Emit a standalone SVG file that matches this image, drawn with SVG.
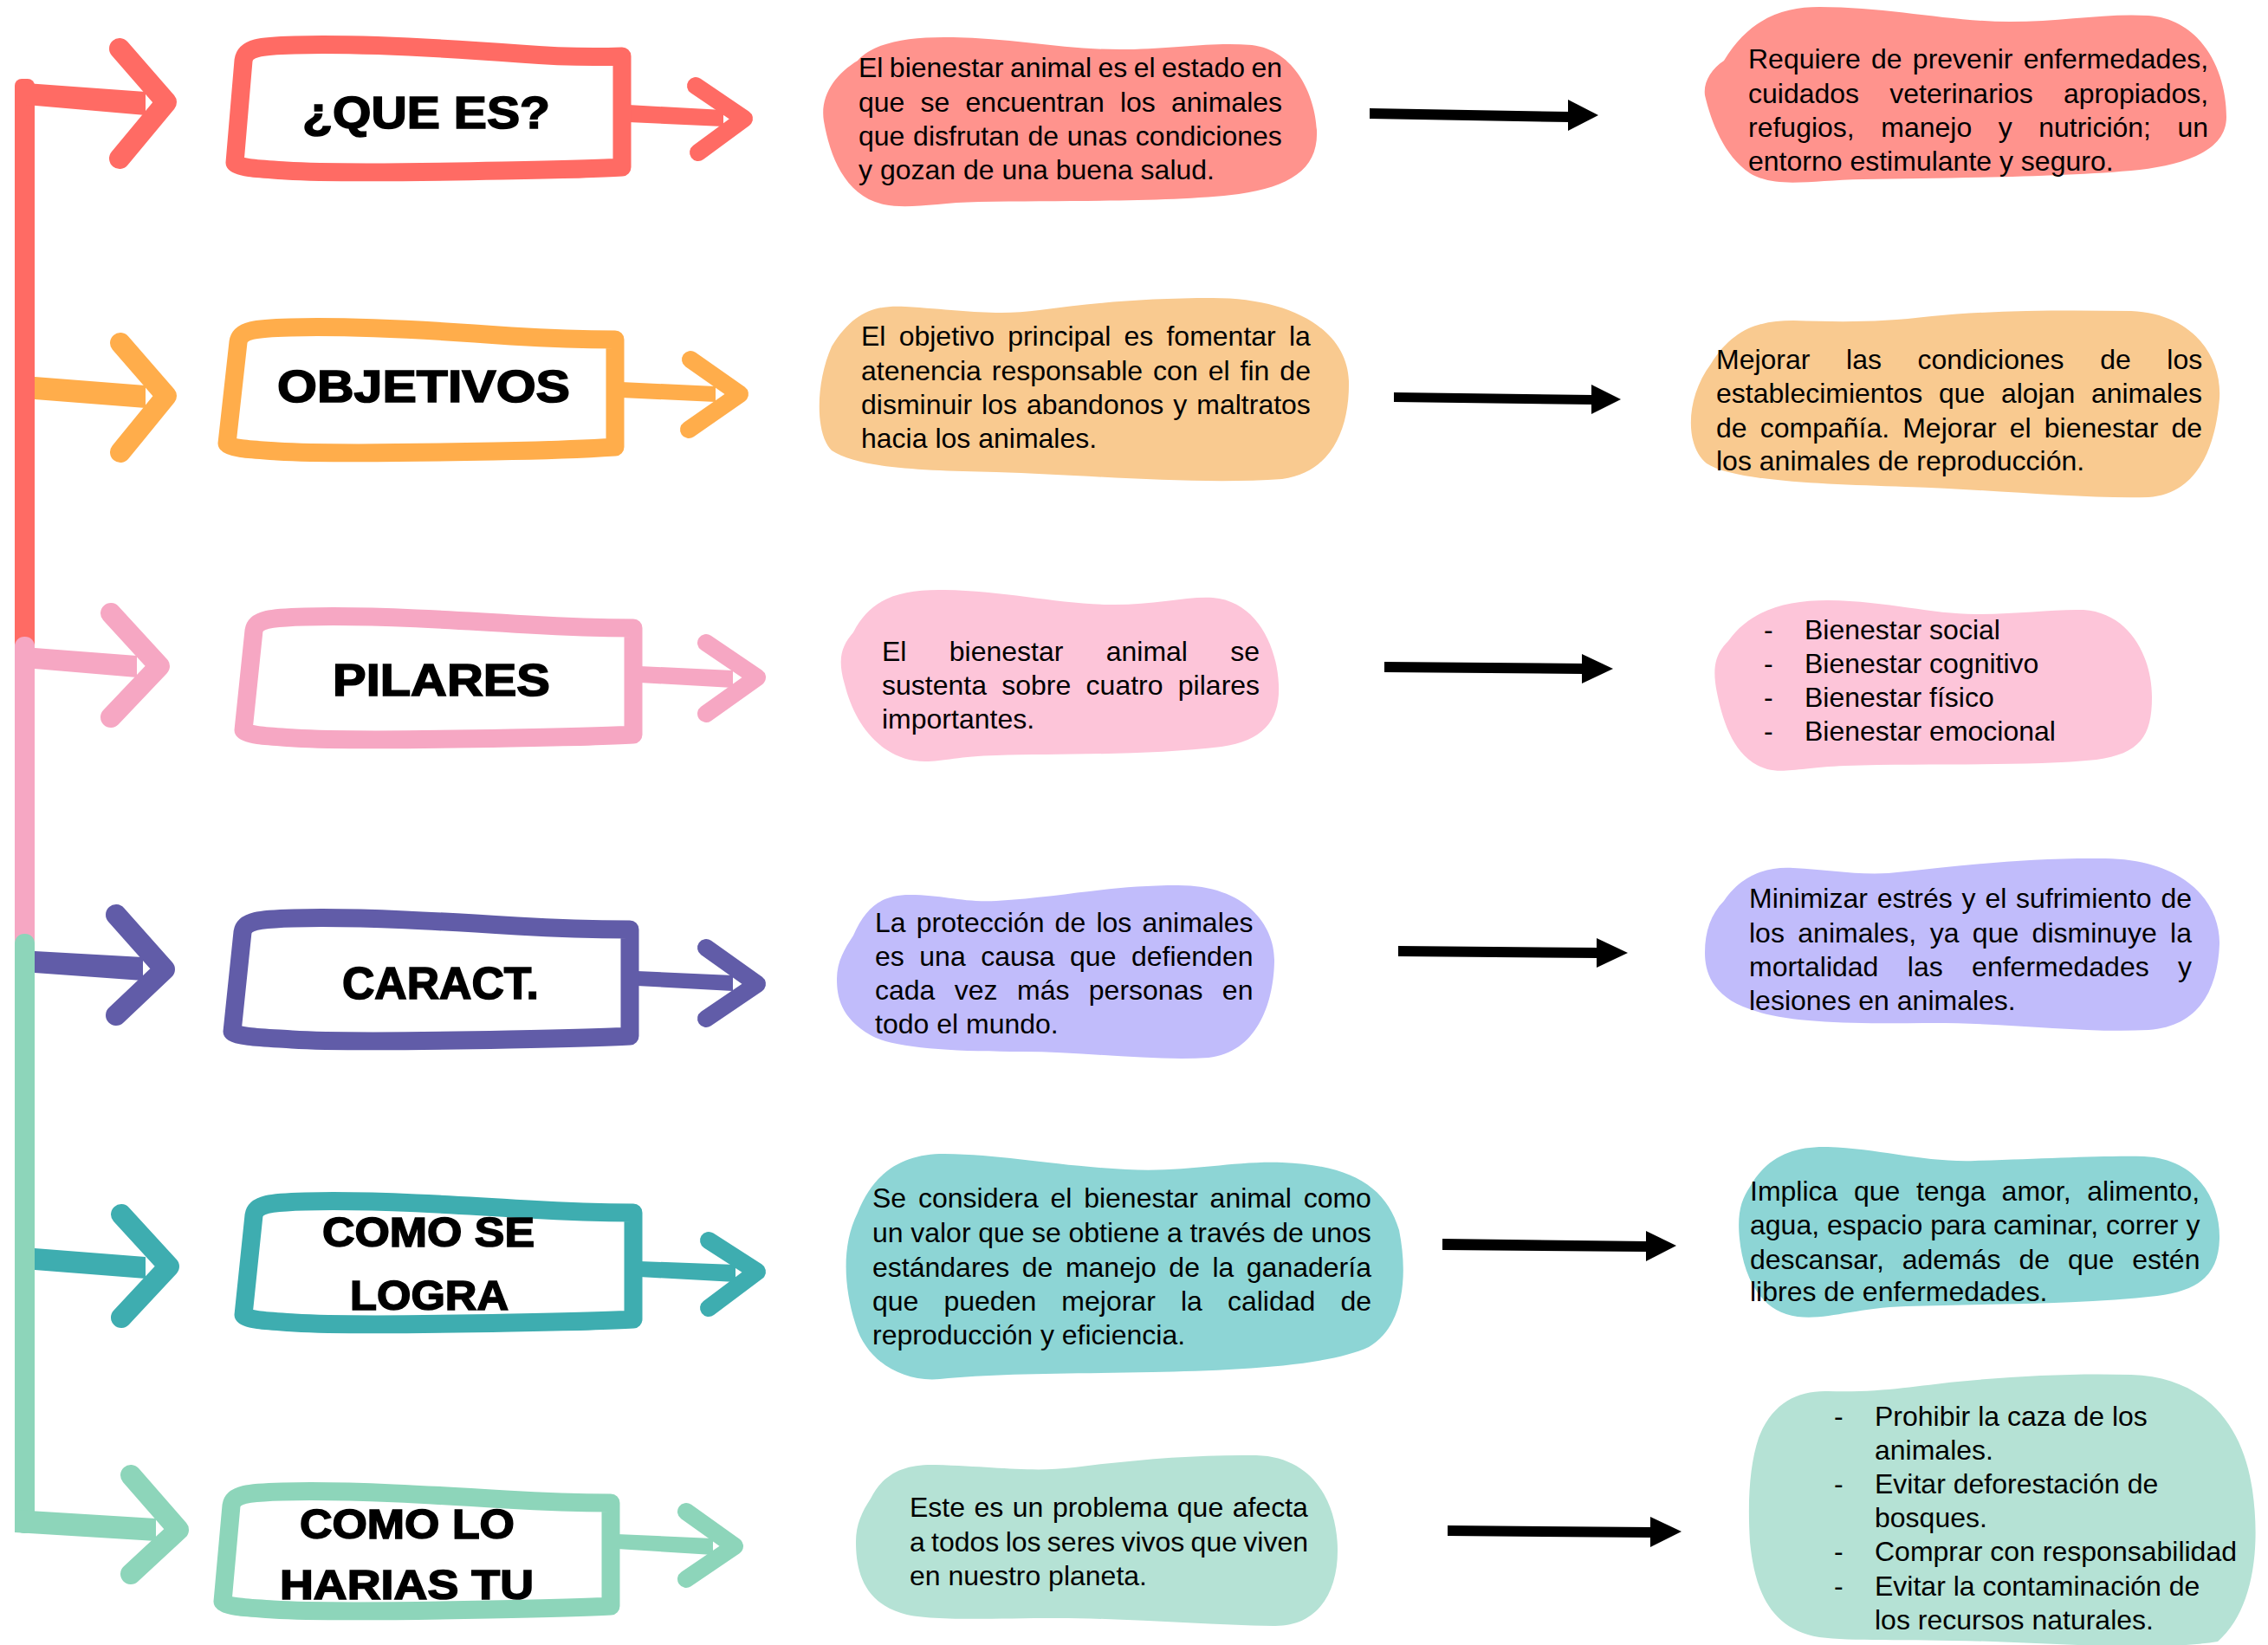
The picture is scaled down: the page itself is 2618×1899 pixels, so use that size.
<svg xmlns="http://www.w3.org/2000/svg" width="2618" height="1899" viewBox="0 0 2618 1899">
<style>
.t{font-family:"Liberation Sans",Arial,sans-serif;font-size:32px;fill:#000}
.lbl{font-family:"Liberation Sans",Arial,sans-serif;font-weight:bold;fill:#000;stroke:#000;stroke-width:1.6}
.box{fill:#fff;stroke-width:21;stroke-linejoin:round}
.chev{fill:none;stroke-width:24;stroke-linecap:round;stroke-linejoin:round}
.chev2{fill:none;stroke-width:20;stroke-linecap:round;stroke-linejoin:round}
.blk{fill:#000}
</style>
<rect width="2618" height="1899" fill="#fff"/>

<g id="connectors">
  <!-- spine -->
  <rect x="17" y="91" width="23" height="660" rx="8" fill="#FF6B64"/>
  <rect x="17" y="735" width="23" height="360" rx="11" fill="#F6A7C3"/>
  <rect x="17" y="1078" width="23" height="692" rx="11" fill="#8DD5BA"/>
  <!-- left arrows -->
  <polygon points="30,96 168,106 168,133 30,121" fill="#FF6B64"/>
  <polyline class="chev" points="138,56 192,118 138,183" stroke="#FF6B64"/>
  <polygon points="40,435 168,445 168,471 40,461" fill="#FFAD4B"/>
  <polyline class="chev" points="139,396 192,457 139,522" stroke="#FFAD4B"/>
  <polygon points="40,748 158,757 158,782 40,772" fill="#F6A7C3"/>
  <polyline class="chev" points="128,708 184,769 128,828" stroke="#F6A7C3"/>
  <polygon points="40,1098 165,1105 165,1132 40,1123" fill="#615CA8"/>
  <polyline class="chev" points="134,1056 190,1119 134,1172" stroke="#615CA8"/>
  <polygon points="40,1441 168,1451 168,1476 40,1466" fill="#3EADB0"/>
  <polyline class="chev" points="140,1402 195,1462 140,1521" stroke="#3EADB0"/>
  <polygon points="17,1743 180,1753 180,1779 17,1769" fill="#8DD5BA"/>
  <polyline class="chev" points="151,1703 206,1766 151,1817" stroke="#8DD5BA"/>
  <!-- right arrows -->
  <polygon points="725,121 835,127 835,146 725,141" fill="#FF6B64"/>
  <polyline class="chev2" points="803,99 859,137 806,176" stroke="#FF6B64"/>
  <polygon points="717,441 826,446 826,464 717,459" fill="#FFAD4B"/>
  <polyline class="chev2" points="797,415 854,455 795,496" stroke="#FFAD4B"/>
  <polygon points="738,769 846,774 846,794 738,788" fill="#F6A7C3"/>
  <polyline class="chev2" points="815,742 874,782 815,824" stroke="#F6A7C3"/>
  <polygon points="735,1121 846,1126 846,1144 735,1138" fill="#615CA8"/>
  <polyline class="chev2" points="815,1094 874,1136 815,1176" stroke="#615CA8"/>
  <polygon points="738,1456 849,1460 849,1480 738,1474" fill="#3EADB0"/>
  <polyline class="chev2" points="818,1432 874,1468 818,1510" stroke="#3EADB0"/>
  <polygon points="712,1771 823,1776 823,1795 712,1788" fill="#8DD5BA"/>
  <polyline class="chev2" points="792,1745 848,1785 792,1823" stroke="#8DD5BA"/>
  <!-- black arrows -->
  <polygon class="blk" points="1581,125 1812,129 1812,141 1581,137"/>
  <polygon class="blk" points="1810,115 1845,133 1810,151"/>
  <polygon class="blk" points="1609,453 1839,456 1839,467 1609,464"/>
  <polygon class="blk" points="1837,444 1871,461 1837,478"/>
  <polygon class="blk" points="1598,764 1828,766 1828,778 1598,776"/>
  <polygon class="blk" points="1826,755 1862,772 1826,789"/>
  <polygon class="blk" points="1614,1092 1845,1094 1845,1106 1614,1104"/>
  <polygon class="blk" points="1843,1083 1879,1100 1843,1117"/>
  <polygon class="blk" points="1665,1430 1902,1433 1902,1445 1665,1443"/>
  <polygon class="blk" points="1900,1421 1935,1438 1900,1456"/>
  <polygon class="blk" points="1671,1761 1907,1763 1907,1775 1671,1773"/>
  <polygon class="blk" points="1905,1751 1941,1768 1905,1786"/>
</g>

<!-- left label boxes -->
<g id="box-que-es">
  <path class="box" stroke="#FF6B64" d="M 281,70 C 283,55 300,53 340,52 C 420,50 520,56 600,62 C 650,66 690,66 718,65 L 718,193 C 690,195 640,196 580,197 C 480,199 380,200 330,197 C 300,195 275,194 271,188 Z"/>
  <text class="lbl" x="349" y="148" font-size="52" textLength="286" lengthAdjust="spacingAndGlyphs">¿QUE ES?</text>
</g>
<g id="box-objetivos">
  <path class="box" stroke="#FFAD4B" d="M 275,395 C 277,381 294,379 335,378 C 410,376 510,382 590,388 C 640,391 680,392 710,392 L 710,516 C 680,518 630,520 570,521 C 470,523 370,524 320,521 C 290,519 266,518 262,512 Z"/>
  <text class="lbl" x="320" y="464" font-size="52" textLength="338" lengthAdjust="spacingAndGlyphs">OBJETIVOS</text>
</g>
<g id="box-pilares">
  <path class="box" stroke="#F6A7C3" d="M 293,728 C 295,715 312,713 352,712 C 430,710 530,716 610,721 C 660,724 700,725 731,725 L 731,848 C 700,850 650,851 590,852 C 490,854 390,855 340,852 C 310,850 285,849 281,843 Z"/>
  <text class="lbl" x="384" y="803" font-size="52" textLength="251" lengthAdjust="spacingAndGlyphs">PILARES</text>
</g>
<g id="box-caract">
  <path class="box" stroke="#615CA8" d="M 280,1076 C 282,1063 299,1061 339,1060 C 417,1058 517,1064 597,1069 C 647,1072 687,1073 727,1073 L 727,1196 C 697,1198 647,1199 587,1200 C 487,1202 387,1203 337,1200 C 307,1198 272,1197 268,1191 Z"/>
  <text class="lbl" x="395" y="1153" font-size="52" textLength="227" lengthAdjust="spacingAndGlyphs">CARACT.</text>
</g>
<g id="box-como-se-logra">
  <path class="box" stroke="#3EADB0" d="M 293,1403 C 295,1390 312,1388 352,1387 C 430,1385 530,1391 610,1396 C 660,1399 700,1400 731,1400 L 731,1523 C 700,1525 650,1526 590,1527 C 490,1529 390,1530 340,1527 C 310,1525 285,1524 281,1518 Z"/>
  <text class="lbl" x="372" y="1439" font-size="48" textLength="245" lengthAdjust="spacingAndGlyphs">COMO SE</text>
  <text class="lbl" x="404" y="1512" font-size="48" textLength="183" lengthAdjust="spacingAndGlyphs">LOGRA</text>
</g>
<g id="box-como-lo-harias">
  <path class="box" stroke="#8DD5BA" d="M 267,1738 C 269,1725 286,1723 326,1722 C 404,1720 504,1726 584,1731 C 634,1734 674,1735 705,1735 L 705,1854 C 675,1856 625,1857 565,1858 C 465,1860 365,1861 315,1858 C 285,1856 261,1855 257,1849 Z"/>
  <text class="lbl" x="346" y="1776" font-size="48" textLength="248" lengthAdjust="spacingAndGlyphs">COMO LO</text>
  <text class="lbl" x="323" y="1846" font-size="48" textLength="293" lengthAdjust="spacingAndGlyphs">HARIAS TU</text>
</g>

<!-- middle blobs -->
<g id="blob-m1">
  <path fill="#FF938D" d="M 990,70 C 1010,48 1050,42 1100,43 C 1170,44 1230,58 1300,57 C 1360,56 1400,48 1445,52 C 1495,58 1518,110 1520,150 C 1522,195 1490,215 1430,224 C 1350,234 1230,231 1130,233 C 1080,234 1050,242 1020,236 C 975,226 958,180 951,140 C 946,110 965,85 990,70 Z"/>
  <text class="t" x="991" y="89" word-spacing="-1.5">El bienestar animal es el estado en</text>
  <text class="t" x="991" y="128.5" word-spacing="9.3">que se encuentran los animales</text>
  <text class="t" x="991" y="168" word-spacing="0.8">que disfrutan de unas condiciones</text>
  <text class="t" x="991" y="207">y gozan de una buena salud.</text>
</g>
<g id="blob-m2">
  <path fill="#F9CA90" d="M 960,400 C 985,360 1010,352 1045,354 C 1110,358 1150,365 1200,358 C 1260,350 1320,344 1400,344 C 1490,344 1555,380 1557,440 C 1558,490 1540,545 1480,553 C 1380,560 1250,548 1150,545 C 1060,543 990,540 960,520 C 940,500 942,440 960,400 Z"/>
  <text class="t" x="994" y="399" word-spacing="6.3">El objetivo principal es fomentar la</text>
  <text class="t" x="994" y="438.5" word-spacing="3.1">atenencia responsable con el fin de</text>
  <text class="t" x="994" y="478" word-spacing="2.1">disminuir los abandonos y maltratos</text>
  <text class="t" x="994" y="517">hacia los animales.</text>
</g>
<g id="blob-m3">
  <path fill="#FDC5D9" d="M 985,730 C 1005,690 1040,680 1090,681 C 1160,682 1220,697 1280,698 C 1330,699 1370,688 1400,690 C 1450,694 1474,745 1476,790 C 1478,830 1460,855 1410,862 C 1330,872 1220,870 1150,872 C 1100,873 1080,882 1055,878 C 1010,870 985,830 975,790 C 966,760 972,745 985,730 Z"/>
  <text class="t" x="1018" y="763" word-spacing="40.4">El bienestar animal se</text>
  <text class="t" x="1018" y="802" word-spacing="8.4">sustenta sobre cuatro pilares</text>
  <text class="t" x="1018" y="841">importantes.</text>
</g>
<g id="blob-m4">
  <path fill="#C1BCFB" d="M 985,1080 C 1000,1045 1020,1033 1050,1033 C 1090,1033 1110,1042 1150,1040 C 1230,1035 1280,1022 1360,1022 C 1440,1022 1472,1070 1471,1110 C 1470,1160 1450,1215 1395,1221 C 1330,1225 1250,1214 1180,1214 C 1100,1214 1030,1210 1005,1195 C 970,1175 966,1150 966,1130 C 966,1110 975,1095 985,1080 Z"/>
  <text class="t" x="1010" y="1075.5" word-spacing="3.3">La protección de los animales</text>
  <text class="t" x="1010" y="1114.5" word-spacing="8.6">es una causa que defienden</text>
  <text class="t" x="1010" y="1154" word-spacing="13.5">cada vez más personas en</text>
  <text class="t" x="1010" y="1193">todo el mundo.</text>
</g>
<g id="blob-m5">
  <path fill="#8DD5D5" d="M 990,1400 C 1010,1350 1045,1332 1090,1332 C 1160,1333 1210,1345 1300,1350 C 1370,1354 1420,1340 1480,1342 C 1560,1345 1600,1370 1615,1420 C 1625,1470 1622,1530 1580,1555 C 1530,1578 1420,1582 1330,1584 C 1230,1586 1150,1585 1085,1592 C 1040,1596 1000,1570 988,1530 C 975,1490 970,1440 990,1400 Z"/>
  <text class="t" x="1007" y="1393.5" word-spacing="4.9">Se considera el bienestar animal como</text>
  <text class="t" x="1007" y="1433.5" word-spacing="-0.3">un valor que se obtiene a través de unos</text>
  <text class="t" x="1007" y="1473.5" word-spacing="5.6">estándares de manejo de la ganadería</text>
  <text class="t" x="1007" y="1512.5" word-spacing="20.2">que pueden mejorar la calidad de</text>
  <text class="t" x="1007" y="1552">reproducción y eficiencia.</text>
</g>
<g id="blob-m6">
  <path fill="#B5E2D5" d="M 1005,1730 C 1020,1700 1045,1690 1080,1691 C 1150,1693 1190,1700 1240,1694 C 1310,1685 1380,1679 1450,1680 C 1520,1682 1544,1740 1544,1790 C 1544,1840 1520,1878 1470,1877 C 1390,1876 1300,1868 1220,1868 C 1140,1868 1070,1872 1040,1862 C 995,1848 988,1810 988,1780 C 988,1760 995,1745 1005,1730 Z"/>
  <text class="t" x="1050" y="1751" word-spacing="1.6">Este es un problema que afecta</text>
  <text class="t" x="1050" y="1790.5" word-spacing="-1.6">a todos los seres vivos que viven</text>
  <text class="t" x="1050" y="1829.5">en nuestro planeta.</text>
</g>

<!-- right blobs -->
<g id="blob-r1">
  <path fill="#FF938D" d="M 1990,70 C 2020,20 2060,8 2100,8 C 2180,8 2250,25 2320,25 C 2380,25 2430,15 2480,18 C 2540,22 2570,80 2570,135 C 2570,175 2520,190 2470,196 C 2380,205 2250,205 2150,207 C 2090,208 2050,218 2020,200 C 1990,180 1975,140 1968,110 C 1966,95 1975,80 1990,70 Z"/>
  <text class="t" x="2018" y="78.5" word-spacing="3.3">Requiere de prevenir enfermedades,</text>
  <text class="t" x="2018" y="118.5" word-spacing="26.3">cuidados veterinarios apropiados,</text>
  <text class="t" x="2018" y="157.5" word-spacing="21.6">refugios, manejo y nutrición; un</text>
  <text class="t" x="2018" y="197">entorno estimulante y seguro.</text>
</g>
<g id="blob-r2">
  <path fill="#F9CA90" d="M 1975,420 C 2000,380 2030,370 2070,370 C 2130,372 2170,372 2230,365 C 2300,358 2380,358 2460,359 C 2530,362 2565,410 2562,460 C 2558,510 2540,570 2480,574 C 2400,576 2300,565 2200,562 C 2100,559 2000,555 1970,535 C 1945,515 1945,460 1975,420 Z"/>
  <text class="t" x="1981" y="426" word-spacing="32.7">Mejorar las condiciones de los</text>
  <text class="t" x="1981" y="465" word-spacing="9.7">establecimientos que alojan animales</text>
  <text class="t" x="1981" y="504.5" word-spacing="6.2">de compañía. Mejorar el bienestar de</text>
  <text class="t" x="1981" y="543">los animales de reproducción.</text>
</g>
<g id="blob-r3">
  <path fill="#FDC5D9" d="M 1995,740 C 2020,705 2060,693 2110,693 C 2180,694 2230,709 2280,709 C 2330,709 2370,703 2405,704 C 2460,708 2484,760 2484,805 C 2484,850 2470,870 2420,877 C 2340,885 2220,881 2130,884 C 2080,886 2060,893 2040,888 C 2005,878 1990,840 1982,800 C 1976,770 1980,755 1995,740 Z"/>
  <text class="t" x="2036" y="738">-</text><text class="t" x="2083" y="738">Bienestar social</text>
  <text class="t" x="2036" y="777">-</text><text class="t" x="2083" y="777">Bienestar cognitivo</text>
  <text class="t" x="2036" y="816">-</text><text class="t" x="2083" y="816">Bienestar físico</text>
  <text class="t" x="2036" y="855">-</text><text class="t" x="2083" y="855">Bienestar emocional</text>
</g>
<g id="blob-r4">
  <path fill="#C1BCFB" d="M 1990,1040 C 2010,1010 2040,1000 2070,1002 C 2110,1004 2140,1010 2180,1008 C 2260,1000 2330,990 2430,991 C 2520,992 2563,1040 2562,1090 C 2560,1140 2540,1185 2480,1189 C 2400,1193 2320,1180 2220,1181 C 2130,1182 2060,1180 2020,1165 C 1975,1150 1968,1120 1968,1100 C 1968,1075 1975,1055 1990,1040 Z"/>
  <text class="t" x="2019" y="1048" word-spacing="1.9">Minimizar estrés y el sufrimiento de</text>
  <text class="t" x="2019" y="1088" word-spacing="6.5">los animales, ya que disminuye la</text>
  <text class="t" x="2019" y="1127" word-spacing="24.5">mortalidad las enfermedades y</text>
  <text class="t" x="2019" y="1166">lesiones en animales.</text>
</g>
<g id="blob-r5">
  <path fill="#8DD5D5" d="M 2020,1370 C 2040,1335 2070,1323 2110,1324 C 2170,1326 2220,1342 2280,1340 C 2360,1338 2420,1334 2475,1335 C 2540,1338 2563,1390 2562,1430 C 2561,1470 2540,1490 2490,1496 C 2400,1506 2300,1505 2200,1508 C 2140,1510 2110,1524 2075,1520 C 2030,1515 2012,1470 2008,1430 C 2005,1400 2010,1385 2020,1370 Z"/>
  <text class="t" x="2020" y="1386" word-spacing="9.7">Implica que tenga amor, alimento,</text>
  <text class="t" x="2020" y="1425">agua, espacio para caminar, correr y</text>
  <text class="t" x="2020" y="1465" word-spacing="12">descansar, además de que estén</text>
  <text class="t" x="2020" y="1502">libres de enfermedades.</text>
</g>
<g id="blob-r6">
  <path fill="#B5E2D5" d="M 2030,1660 C 2045,1620 2075,1605 2110,1606 C 2170,1608 2210,1600 2260,1595 C 2330,1588 2400,1585 2460,1587 C 2550,1590 2590,1650 2600,1720 C 2610,1790 2600,1860 2560,1895 C 2500,1905 2400,1899 2300,1895 C 2200,1892 2140,1895 2100,1890 C 2040,1880 2025,1830 2020,1780 C 2017,1730 2020,1690 2030,1660 Z"/>
  <text class="t" x="2117" y="1646">-</text><text class="t" x="2164" y="1646">Prohibir la caza de los</text>
  <text class="t" x="2164" y="1685">animales.</text>
  <text class="t" x="2117" y="1724">-</text><text class="t" x="2164" y="1724">Evitar deforestación de</text>
  <text class="t" x="2164" y="1763">bosques.</text>
  <text class="t" x="2117" y="1802">-</text><text class="t" x="2164" y="1802">Comprar con responsabilidad</text>
  <text class="t" x="2117" y="1842">-</text><text class="t" x="2164" y="1842">Evitar la contaminación de</text>
  <text class="t" x="2164" y="1881">los recursos naturales.</text>
</g>
</svg>
